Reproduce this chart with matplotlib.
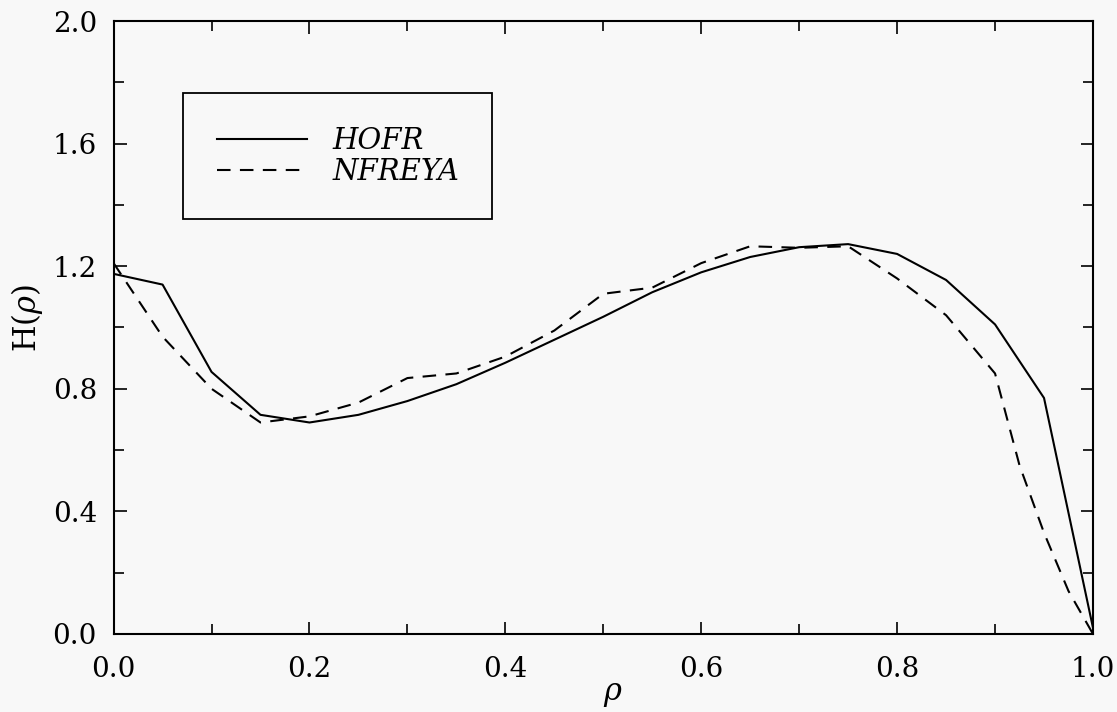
import numpy as np
import matplotlib.pyplot as plt
from matplotlib.ticker import MultipleLocator

# values
RHO_HOFR = [0.0, 0.05, 0.1, 0.15, 0.2, 0.25, 0.3, 0.35, 0.4, 0.45, 0.5,
            0.55, 0.6, 0.65, 0.7, 0.75, 0.8, 0.85, 0.9, 0.95, 1.0]
H_HOFR = [1.175, 1.14, 0.855, 0.715, 0.69, 0.715, 0.76, 0.815, 0.885, 0.96, 1.035,
          1.115, 1.18, 1.23, 1.262, 1.272, 1.24, 1.155, 1.01, 0.77, 0.02]

RHO_NFREYA = [0.0, 0.05, 0.1, 0.15, 0.2, 0.25, 0.3, 0.35, 0.4, 0.45, 0.5,
              0.55, 0.6, 0.65, 0.7, 0.75, 0.8, 0.85, 0.9, 0.925, 0.95, 0.975, 1.0]
H_NFREYA = [1.21, 0.97, 0.80, 0.69, 0.71, 0.755, 0.835, 0.85, 0.905, 0.99, 1.11,
            1.13, 1.21, 1.265, 1.26, 1.265, 1.16, 1.04, 0.85, 0.55, 0.33, 0.14, 0.0]

LABELS = ['HOFR', 'NFREYA']
BG = '#f8f8f8'

plt.rcParams['font.family'] = ['DejaVu Serif']
plt.rcParams['mathtext.fontset'] = 'dejavuserif'

fig = plt.figure(figsize=(11.17, 7.12), dpi=100, facecolor=BG)
ax = fig.add_axes([0.1017, 0.1096, 0.8768, 0.8609], facecolor=BG)

ax.plot(RHO_HOFR, H_HOFR, color='black', lw=1.5, label=LABELS[0])
ax.plot(RHO_NFREYA, H_NFREYA, color='black', lw=1.5, dashes=(6.5, 4.5), label=LABELS[1])

ax.set_xlim(0, 1)
ax.set_ylim(0, 2)
ax.xaxis.set_major_locator(MultipleLocator(0.2))
ax.xaxis.set_minor_locator(MultipleLocator(0.1))
ax.yaxis.set_major_locator(MultipleLocator(0.4))
ax.yaxis.set_minor_locator(MultipleLocator(0.2))
ax.xaxis.set_major_formatter(plt.FormatStrFormatter('%.1f'))
ax.yaxis.set_major_formatter(plt.FormatStrFormatter('%.1f'))

ax.tick_params(which='both', direction='in', top=True, right=True, width=1.2,
               labelsize=20)
ax.tick_params(which='major', length=9)
ax.tick_params(which='minor', length=7)
ax.tick_params(axis='x', which='major', pad=16)
ax.tick_params(axis='y', which='major', pad=12)
for s in ax.spines.values():
    s.set_linewidth(1.5)

ax.set_xlabel(r'$\rho$', fontsize=22)
ax.xaxis.set_label_coords(0.51, -0.072)
ax.set_ylabel(r'H($\rho$)', fontsize=22)
ax.yaxis.set_label_coords(-0.070, 0.5155)

leg = ax.legend(loc='upper left', bbox_to_anchor=(0.0712, 0.882), borderaxespad=0,
                prop={'family': 'DejaVu Serif', 'style': 'italic', 'size': 21},
                handlelength=3.1, handletextpad=0.85, labelspacing=0.1,
                borderpad=1.15, fancybox=False, framealpha=1, facecolor=BG,
                edgecolor='black')
leg.get_frame().set_linewidth(1.3)

fig.savefig('out.png', dpi=100, facecolor=BG)
